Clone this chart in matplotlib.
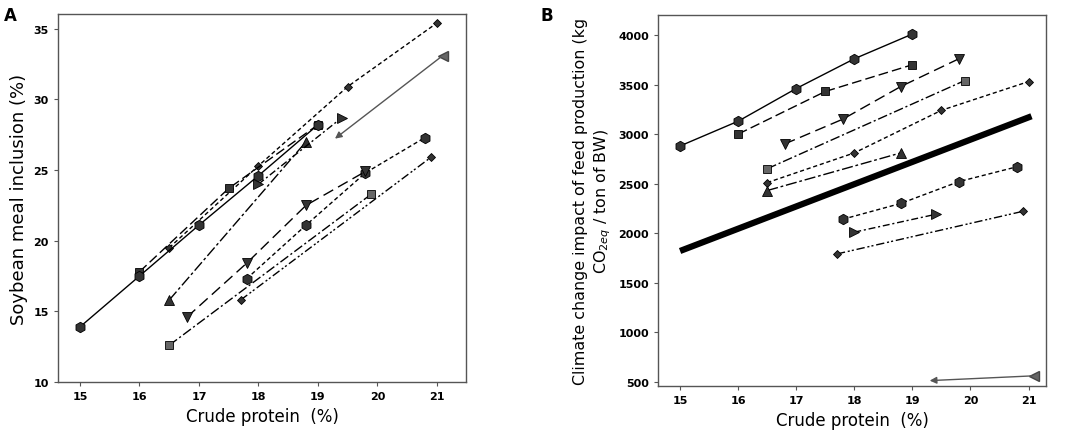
import numpy as np
import matplotlib
matplotlib.use('Agg')
import matplotlib.pyplot as plt

# ---- panel A : soybean meal inclusion (%) ----
a_circle_x = [15, 16, 17, 18, 19]
a_circle_y = [13.9, 17.5, 21.1, 24.6, 28.2]
a_square_x = [16, 17.5, 19]
a_square_y = [17.8, 23.7, 28.2]
a_down_x = [16.8, 17.8, 18.8, 19.8]
a_down_y = [14.6, 18.4, 22.5, 24.9]
a_gsquare_x = [16.5, 19.9]
a_gsquare_y = [12.6, 23.3]
a_diamond_x = [16.5, 18, 19.5, 21]
a_diamond_y = [19.5, 25.3, 30.9, 35.4]
a_up_x = [16.5, 18.8]
a_up_y = [15.8, 27.0]
a_right_x = [18, 19.4]
a_right_y = [24.0, 28.7]
a_circ2_x = [17.8, 18.8, 19.8, 20.8]
a_circ2_y = [17.3, 21.1, 24.8, 27.3]
a_diam2_x = [17.7, 20.9]
a_diam2_y = [15.8, 25.9]
a_arrow_x = [21.1, 19.25]
a_arrow_y = [33.1, 27.1]

# ---- panel B : climate change impact ----
b_circle_y = [2880, 3130, 3460, 3760, 4010]
b_square_y = [3000, 3430, 3700]
b_down_y = [2900, 3150, 3480, 3760]
b_gsquare_y = [2650, 3540]
b_diamond_y = [2510, 2810, 3240, 3530]
b_up_y = [2430, 2810]
b_right_y = [2010, 2190]
b_circ2_y = [2140, 2300, 2520, 2670]
b_diam2_y = [1790, 2220]
b_arrow_y = [560, 510]
b_thick_x = [15, 21.05]
b_thick_y = [1820, 3180]

a_xticks = [15, 16, 17, 18, 19, 20, 21]
a_yticks = [10, 15, 20, 25, 30, 35]
b_yticks = [500, 1000, 1500, 2000, 2500, 3000, 3500, 4000]

dark = '#333333'
mk = dict(markerfacecolor=dark, markeredgecolor='black', markeredgewidth=0.6, color='black', lw=1.0)

styles = {
    'circle': dict(marker='h', ms=7.5, ls='-'),
    'square': dict(marker='s', ms=5.5, dashes=(7, 3)),
    'down': dict(marker='v', ms=7, dashes=(8, 4)),
    'gsquare': dict(marker='s', ms=5.5, dashes=(7, 2, 1.5, 2), markerfacecolor='#666666'),
    'diamond': dict(marker='D', ms=4.5, dashes=(3, 2)),
    'up': dict(marker='^', ms=7, dashes=(8, 2, 2, 2)),
    'right': dict(marker='>', ms=7, dashes=(5, 2, 1.5, 2)),
    'circ2': dict(marker='h', ms=7.5, dashes=(3, 2)),
    'diam2': dict(marker='D', ms=4.5, dashes=(6, 2, 1.5, 1.5, 1.5, 2)),
}


def draw(ax, name, x, y):
    opts = dict(mk)
    opts.update(styles[name])
    ax.plot(x, y, **opts)


def draw_arrow(ax, x, y):
    ax.plot(x[0], y[0], marker='<', ms=7, color='#666666', markeredgecolor='#444444', ls='none')
    ax.annotate('', xy=(x[1], y[1]), xytext=(x[0], y[0]),
                arrowprops=dict(arrowstyle='-|>', color='#555555', lw=1.0, mutation_scale=10))


def style_axes(ax):
    for s in ax.spines.values():
        s.set_color('#555555')
        s.set_linewidth(1.0)
    ax.tick_params(direction='out', length=3, width=0.8, color='#555555', labelsize=8)
    for lab in ax.get_xticklabels() + ax.get_yticklabels():
        lab.set_fontweight('bold')


fig = plt.figure(figsize=(10.84, 4.39), dpi=100)
axA = fig.add_axes([58 / 1084, 1 - 383 / 439, 408 / 1084, 368 / 439])
axB = fig.add_axes([658 / 1084, 1 - 387 / 439, 388 / 1084, 371 / 439])

# panel A
draw(axA, 'gsquare', a_gsquare_x, a_gsquare_y)
draw(axA, 'diam2', a_diam2_x, a_diam2_y)
draw(axA, 'circ2', a_circ2_x, a_circ2_y)
draw(axA, 'down', a_down_x, a_down_y)
draw(axA, 'up', a_up_x, a_up_y)
draw(axA, 'right', a_right_x, a_right_y)
draw(axA, 'diamond', a_diamond_x, a_diamond_y)
draw(axA, 'square', a_square_x, a_square_y)
draw(axA, 'circle', a_circle_x, a_circle_y)
draw_arrow(axA, a_arrow_x, a_arrow_y)
axA.set_xlim(14.63, 21.49)
axA.set_ylim(10, 36.04)
axA.set_xticks(a_xticks)
axA.set_yticks(a_yticks)
axA.set_xlabel('Crude protein  (%)', fontsize=12)
axA.set_ylabel('Soybean meal inclusion (%)', fontsize=13)
style_axes(axA)

# panel B
axB.plot(b_thick_x, b_thick_y, color='black', lw=4.5, solid_capstyle='butt')
draw(axB, 'circle', a_circle_x, b_circle_y)
draw(axB, 'square', a_square_x, b_square_y)
draw(axB, 'down', a_down_x, b_down_y)
draw(axB, 'gsquare', a_gsquare_x, b_gsquare_y)
draw(axB, 'diamond', a_diamond_x, b_diamond_y)
draw(axB, 'up', a_up_x, b_up_y)
draw(axB, 'right', a_right_x, b_right_y)
draw(axB, 'circ2', a_circ2_x, b_circ2_y)
draw(axB, 'diam2', a_diam2_x, b_diam2_y)
draw_arrow(axB, a_arrow_x, b_arrow_y)
axB.set_xlim(14.62, 21.3)
axB.set_ylim(457, 4202)
axB.set_xticks(a_xticks)
axB.set_yticks(b_yticks)
axB.set_xlabel('Crude protein  (%)', fontsize=12)
axB.set_ylabel('Climate change impact of feed production (kg\nCO$_{2eq}$ / ton of BW)',
               fontsize=11.4, linespacing=1.3)
style_axes(axB)

fig.text(4 / 1084, 1 - 16 / 439, 'A', fontsize=12, fontweight='bold', va='center')
fig.text(541 / 1084, 1 - 16 / 439, 'B', fontsize=12, fontweight='bold', va='center')

fig.savefig('out.png', dpi=100)
